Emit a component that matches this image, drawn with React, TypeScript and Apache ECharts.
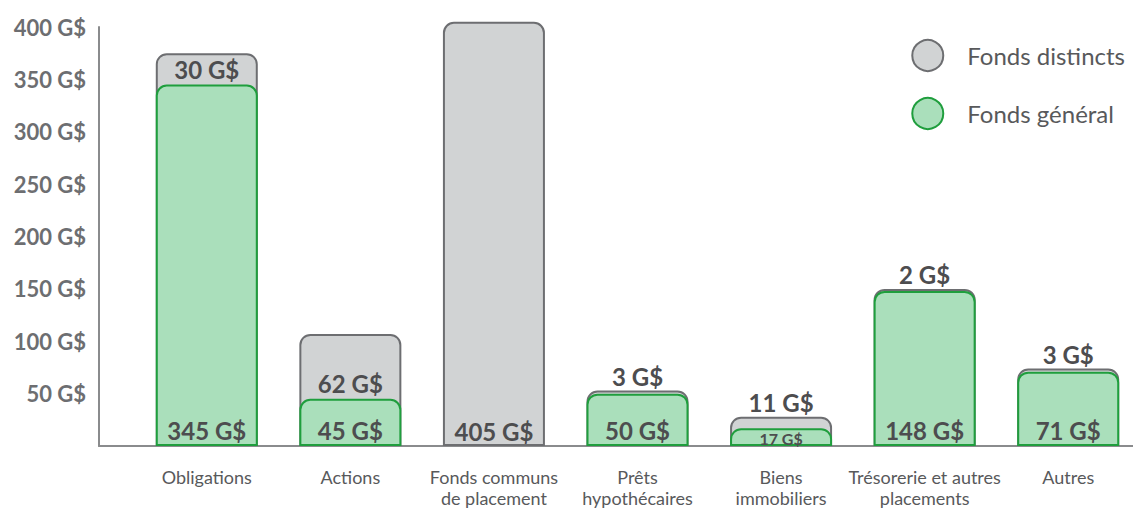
import React, { useEffect, useRef } from "react";
import * as echarts from "echarts";

const categories = [
  "Obligations",
  "Actions",
  "Fonds communs\nde placement",
  "Prêts\nhypothécaires",
  "Biens\nimmobiliers",
  "Trésorerie et autres\nplacements",
  "Autres",
];
const fondsGeneral: (number | string)[] = [345, 45, "-", 50, 17, 148, 71];
const fondsDistincts = [30, 62, 405, 3, 11, 2, 3];
const distinctLabelPos = ["insideBottom", "insideBottom", "insideBottom", "top", "top", "top", "top"];
const yTicks = [0, 50, 100, 150, 200, 250, 300, 350, 400];

const FONT = "Lato";

export default function App() {
  const ref = useRef<HTMLDivElement>(null);
  useEffect(() => {
    if (!ref.current) return;
    const chart = echarts.init(ref.current, undefined, { renderer: "svg" });
    const totals = fondsDistincts.map((d, i) => {
      const g = typeof fondsGeneral[i] === "number" ? (fondsGeneral[i] as number) : 0;
      return g + d;
    });
    const labelStyle = {
      fontFamily: FONT,
      fontWeight: "bold" as const,
      fontSize: 24,
      color: "#4d4d4f",
    };
    chart.setOption({
      animation: false,
      backgroundColor: "#ffffff",
      grid: [
        { left: 135, width: 1005, top: 27, bottom: 62 },
        { left: 99, right: 17, top: 27, bottom: 62 },
      ],
      legend: {
        data: ["Fonds distincts", "Fonds général"],
        orient: "vertical",
        right: 20,
        top: 34,
        icon: "circle",
        itemWidth: 31,
        itemHeight: 31,
        itemGap: 25,
        textStyle: {
          fontFamily: FONT,
          fontSize: 24,
          color: "#58595b",
          padding: [0, 0, 0, 19],
        },
      },
      xAxis: [
        {
          type: "category",
          gridIndex: 0,
          data: categories,
          axisLine: { show: false },
          axisTick: { show: false },
          axisLabel: {
            fontFamily: FONT,
            fontSize: 18,
            color: "#58595b",
            lineHeight: 21,
            margin: 20,
            interval: 0,
          },
        },
        {
          type: "value",
          gridIndex: 1,
          min: 0,
          max: 1,
          axisLine: { show: true, lineStyle: { color: "#8a8b8d", width: 2 } },
          axisTick: { show: false },
          axisLabel: { show: false },
          splitLine: { show: false },
        },
      ],
      yAxis: [
        {
          type: "value",
          gridIndex: 0,
          min: yTicks[0],
          max: yTicks[yTicks.length - 1],
          interval: 50,
          offset: 36,
          axisLine: { show: true, lineStyle: { color: "#8a8b8d", width: 2 } },
          axisTick: { show: false },
          splitLine: { show: false },
          axisLabel: {
            fontFamily: FONT,
            fontWeight: "bold",
            fontSize: 22,
            color: "#6d6e71",
            margin: 13,
            formatter: (v: number) => (v === 0 ? "" : `${v} G$`),
          },
        },
        {
          type: "value",
          gridIndex: 1,
          show: false,
          min: 0,
          max: 1,
        },
      ],
      series: [
        {
          name: "Fonds distincts",
          type: "bar",
          xAxisIndex: 0,
          yAxisIndex: 0,
          data: totals,
          barWidth: 102,
          barGap: "-100%",
          clip: false,
          z: 1,
          itemStyle: {
            color: "#d1d3d4",
            borderColor: "#6d6e71",
            borderWidth: 2,
            borderRadius: [10, 10, 0, 0],
          },
        },
        {
          name: "Fonds général",
          type: "bar",
          xAxisIndex: 0,
          yAxisIndex: 0,
          stack: "g",
          data: fondsGeneral.map((v, i) =>
            i === 4
              ? { value: v, label: { fontSize: 16, distance: 0 } }
              : v
          ),
          barWidth: 102,
          barGap: "-100%",
          clip: false,
          z: 2,
          itemStyle: {
            color: "#aadfbb",
            borderColor: "#1f9e3d",
            borderWidth: 2,
            borderRadius: [10, 10, 0, 0],
          },
          label: {
            show: true,
            position: "insideBottom",
            distance: 4,
            formatter: (p: any) => `${p.value} G$`,
            ...labelStyle,
          },
        },
        {
          name: "labels",
          type: "bar",
          xAxisIndex: 0,
          yAxisIndex: 0,
          stack: "g",
          data: fondsDistincts.map((v, i) => ({
            value: v,
            label: {
              position: distinctLabelPos[i],
              distance: distinctLabelPos[i] === "top" ? 2 : 3,
            },
          })),
          barWidth: 102,
          barGap: "-100%",
          clip: false,
          silent: true,
          z: 3,
          itemStyle: { color: "rgba(0,0,0,0)", borderWidth: 0 },
          label: {
            show: true,
            formatter: (p: any) => `${p.value} G$`,
            ...labelStyle,
          },
        },
      ],
    });
    return () => chart.dispose();
  }, []);
  return (
    <div
      style={{
        position: "absolute",
        left: 0,
        top: 0,
        width: 1133,
        height: 508,
        overflow: "hidden",
      }}
    >
      <div ref={ref} style={{ width: 1150, height: 508 }} />
    </div>
  );
}
